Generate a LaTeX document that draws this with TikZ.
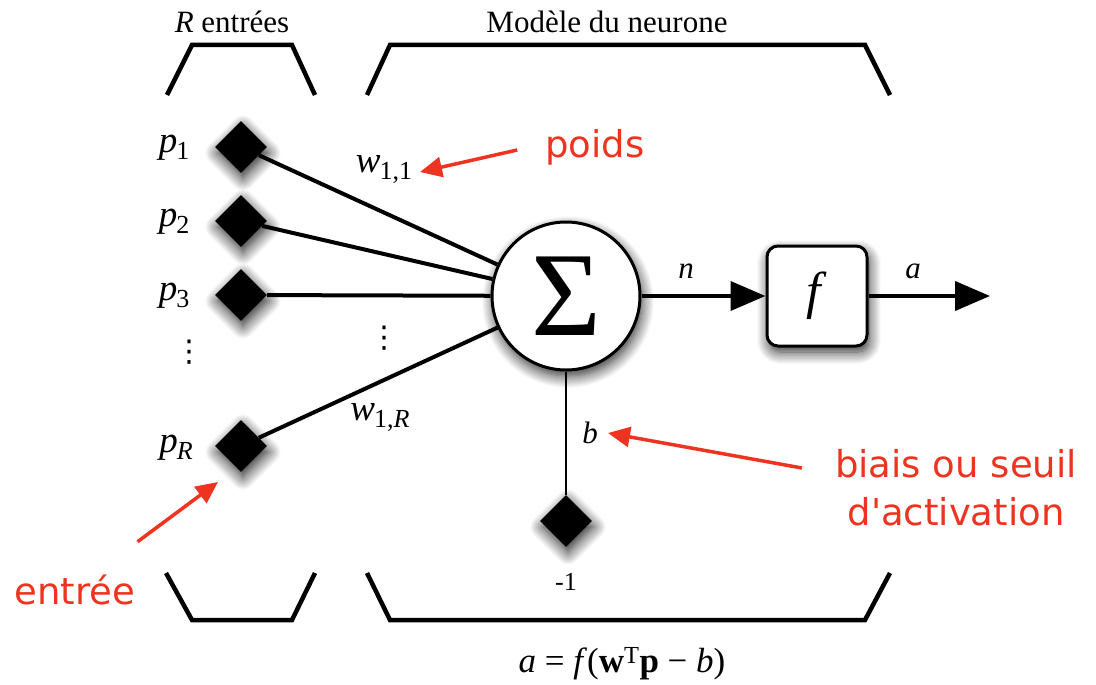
\documentclass[tikz,border=0pt]{standalone}
\usepackage{fontspec}
\setmainfont{Liberation Serif}
\newfontfamily\redfont{DejaVu Sans}
\newfontfamily\symfont{DejaVu Sans}
\usetikzlibrary{shapes.geometric,arrows.meta,shadows.blur}
\definecolor{annot}{RGB}{238,52,32}
\newcommand{\lowsub}[1]{\kern-1pt\raisebox{-7pt}{\fontsize{26}{26}\selectfont #1}}
\tikzset{
  myshadow/.style={blur shadow={shadow xshift=2pt, shadow yshift=-6pt, shadow blur radius=12pt, shadow blur steps=12, shadow opacity=85}},
  inp/.style={diamond, fill=black, inner sep=0pt, minimum width=52pt, minimum height=52pt, myshadow},
  sumnode/.style={circle, draw=black, line width=3pt, fill=white, minimum size=148pt, inner sep=0pt, myshadow},
  fbox/.style={rectangle, rounded corners=11pt, draw=black, line width=3pt, fill=white, minimum size=100pt, inner sep=0pt, myshadow},
  lbl/.style={font=\fontsize{31}{36}\selectfont, inner sep=0pt},
  plbl/.style={font=\fontsize{37}{40}\selectfont, inner sep=0pt},
  small/.style={font=\fontsize{26}{30}\selectfont, inner sep=0pt},
  vdotsnode/.style={font=\symfont\fontsize{30}{30}\selectfont, inner sep=0pt},
  wire/.style={line width=4pt},
  thinwire/.style={line width=2.2pt},
  bigarrow/.style={line width=4pt, -{Triangle[length=35pt,width=29pt]}},
  bracket/.style={line width=4.5pt},
  redtxt/.style={text=annot, font=\redfont\fontsize{37}{48}\selectfont, inner sep=0pt, align=center},
  redarrow/.style={annot, line width=3.5pt, -{Triangle[length=22pt,width=20pt]}},
}
\begin{document}
\begin{tikzpicture}[x=1pt,y=-1pt]
\useasboundingbox (0,0) rectangle (1096,685);

% brackets
\draw[bracket] (167,95) -- (192,45) -- (292,45) -- (315,95);
\draw[bracket] (367,95) -- (390,45) -- (865,45) -- (890,95);
\draw[bracket] (166,573) -- (192,620) -- (292,620) -- (315,573);
\draw[bracket] (367,573) -- (390,620) -- (865,620) -- (890,573);

\node[lbl] (rin) at (232,22) {\textit{R} entrées};
\node[lbl] (model) at (607,22) {Modèle du neurone};

% nodes
\node[sumnode] (sum) at (566,296) {\fontsize{120}{120}\selectfont Σ};
\node[fbox] (f) at (817,296) {\fontsize{52}{52}\selectfont\textit{f}};
\coordinate (out) at (990,296);

\node[inp] (p1) at (241,147) {};
\node[inp] (p2) at (241,221) {};
\node[inp] (p3) at (241,295) {};
\node[inp] (pR) at (241,446) {};
\node[inp] (bias) at (566,521) {};

\node[plbl] (l1) at (174,148) {\textit{p}\lowsub{1}};
\node[plbl] (l2) at (174,222) {\textit{p}\lowsub{2}};
\node[plbl] (l3) at (174,296) {\textit{p}\lowsub{3}};
\node[plbl] (lR) at (176,448) {\textit{p}\lowsub{\textit{R}}};
\node[vdotsnode] (vd1) at (189,352) {⋮};
\node[vdotsnode] (vd2) at (384,338) {⋮};

% connections
\draw[wire] (p1) -- (sum);
\draw[wire] (p2) -- (sum);
\draw[wire] (p3) -- (sum);
\draw[wire] (pR) -- (sum);
\draw[thinwire] (sum) -- (bias);
\draw[bigarrow] (sum) -- (f);
\draw[bigarrow] (f) -- (out);

\node[plbl] (w11) at (384,170) {\textit{w}\lowsub{1,1}};
\node[plbl] (w1R) at (380,418) {\textit{w}\lowsub{1,\textit{R}}};
\node[lbl] (nl) at (686,271) {\textit{n}};
\node[lbl] (al) at (913,271) {\textit{a}};
\node[lbl] (bl) at (590,433) {\textit{b}};
\node[small] (m1) at (566,582) {-1};
\node[font=\fontsize{35}{40}\selectfont, inner sep=0pt] (eq) at (622,664) {\textit{a} = \textit{f}(\textbf{w}\textsuperscript{T}\textbf{p} − \textit{b})};

% red annotations
\node[redtxt] (poids) at (595,147) {poids};
\node[redtxt] (biais) at (956,488) {biais ou seuil\\d'activation};
\node[redtxt] (entree) at (75,590) {entrée};
\coordinate (poidsTip) at (420,172);
\coordinate (biaisTip) at (608,433);
\coordinate (entreeTip) at (218,482);
\draw[redarrow] (poids.west) ++(-28,3) coordinate (poidsTail) (poidsTail) -- (poidsTip);
\draw[redarrow] (biais.west) ++(-33,-20) coordinate (biaisTail) (biaisTail) -- (biaisTip);
\draw[redarrow] (entree.north east) ++(2,-33) coordinate (entreeTail) (entreeTail) -- (entreeTip);
\end{tikzpicture}
\end{document}
